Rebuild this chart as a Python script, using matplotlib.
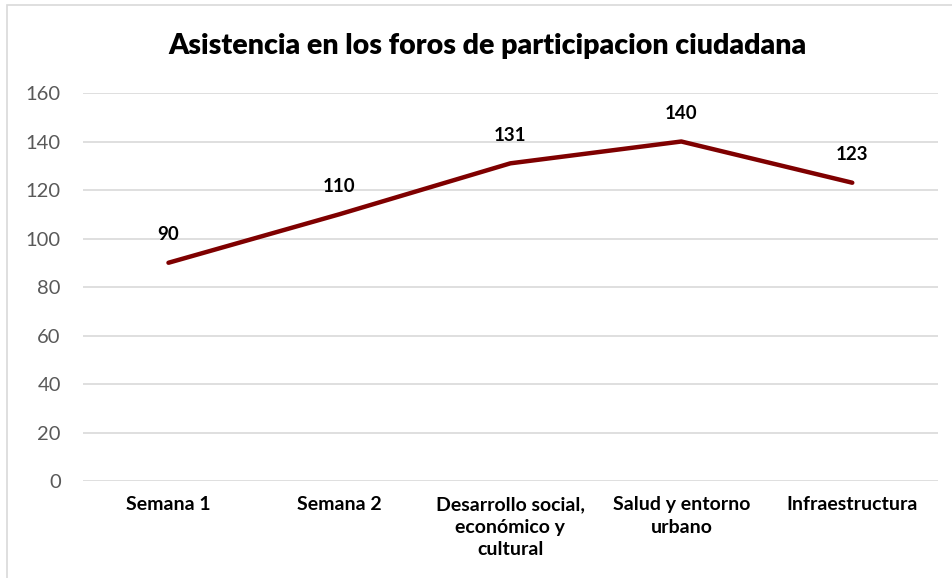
import matplotlib.pyplot as plt
from matplotlib.patches import Rectangle

# Datos
categorias = ['Semana 1', 'Semana 2', 'Desarrollo social,\neconómico y\ncultural',
              'Salud y entorno\nurbano', 'Infraestructura']
asistencia = [90, 110, 131, 140, 123]
ticks_y = [0, 20, 40, 60, 80, 100, 120, 140, 160]

plt.rcParams['font.family'] = ['Lato', 'DejaVu Sans']

fig = plt.figure(figsize=(9.53, 5.78), dpi=100)
ax = fig.add_axes([0.0871, 0.1678, 0.8969, 0.6713])

# borde del grafico
fig.patches.append(Rectangle((0.007, -0.1), 1.2, 1.092, transform=fig.transFigure,
                             fill=False, edgecolor='#d9d9d9', linewidth=1.2))

x = list(range(len(categorias)))
ax.plot(x, asistencia, color='#7f0000', linewidth=3.2, solid_capstyle='round', zorder=3)

for xi, v in zip(x, asistencia):
    ax.annotate(str(v), (xi, v), xytext=(0, 14), textcoords='offset points',
                ha='center', va='bottom', fontsize=13.5, fontweight='bold', color='black')

ax.set_xlim(-0.5, len(categorias) - 0.5)
ax.set_ylim(0, 160)
ax.set_yticks(ticks_y)
ax.set_yticklabels([str(t) for t in ticks_y], fontsize=14.5, color='#595959')
ax.set_xticks(x)
ax.set_xticklabels(categorias, fontsize=14, fontweight='bold', color='black',
                   linespacing=1.4, va='top')
ax.tick_params(axis='both', length=0)
ax.tick_params(axis='x', pad=11)
ax.tick_params(axis='y', pad=16)

ax.grid(axis='y', color='#d9d9d9', linewidth=1.2)
ax.set_axisbelow(True)
for s in ax.spines.values():
    s.set_visible(False)

fig.text(0.512, 0.92, 'Asistencia en los foros de participacion ciudadana',
         ha='center', va='center', fontsize=20.5, fontweight='heavy', color='black')

fig.savefig('out.png', dpi=100)
